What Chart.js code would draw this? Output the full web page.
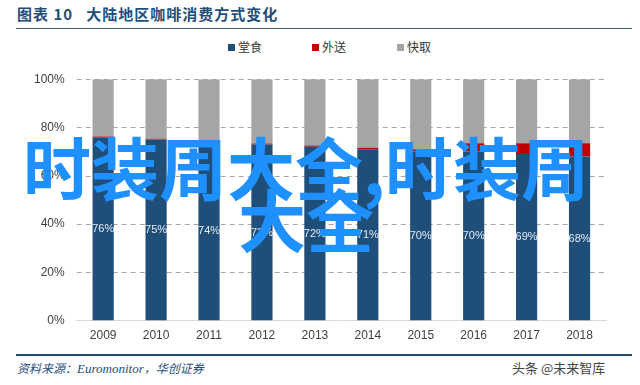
<!DOCTYPE html>
<html>
<head>
<meta charset="utf-8">
<script src="https://cdn.jsdelivr.net/npm/chart.js@4"></script>
<style>
  body { margin: 0; background: #fff; }
  #page { position: relative; width: 640px; height: 385px; overflow: hidden; font-family: "Noto Sans CJK SC", sans-serif; }
  #title { position: absolute; left: 17px; top: 3px; font-size: 15px; font-weight: bold; color: #1f4e79; letter-spacing: 1px; }
  #topline { position: absolute; left: 16px; top: 28px; width: 616px; height: 1px; background: #3a5f80; }
  #legend { position: absolute; top: 38px; left: 0; width: 640px; font-size: 12px; color: #333; }
  .item { position: absolute; top: 0; }
  .box { display: inline-block; width: 7px; height: 7px; margin-right: 3px; vertical-align: 1px; }
  #chartBox { position: absolute; left: 0; top: 60px; width: 640px; height: 291px; }
  #bottomline { position: absolute; left: 16px; top: 354px; width: 616px; height: 2px; background: #1f4e79; }
  #source { position: absolute; left: 17px; top: 359px; font-size: 12px; font-style: italic; color: #1f4e79; }
  #source .en { font-family: "Liberation Serif", serif; font-size: 13px; }
  #mark { position: absolute; left: 512px; top: 358px; font-size: 13px; color: #444; }
  #wm { position: absolute; left: 0; top: 140px; width: 612px; text-align: center; font-size: 68px; line-height: 52px; font-weight: bold; color: #1e90ff; }
</style>
</head>
<body>
<div id="page">
  <div id="title">图表 10&nbsp;&nbsp;&nbsp;大陆地区咖啡消费方式变化</div>
  <div id="topline"></div>
  <div id="legend"></div>
  <div id="chartBox"><canvas id="coffeeChart"></canvas></div>
  <div id="bottomline"></div>
  <div id="source">资料来源：<span class="en">Euromonitor</span>，华创证券</div>
  <div id="mark">头条 @未来智库</div>
  <div id="wm">时装周大全,时装周<br>大全</div>
</div>
<script>
const years = ["2009", "2010", "2011", "2012", "2013", "2014", "2015", "2016", "2017", "2018"];
const dineIn = [76, 75, 74, 73, 72, 71, 70, 70, 69, 68];
const delivery = [0.3, 0.3, 0.3, 0.4, 0.5, 0.6, 1.0, 3.5, 4.5, 5.5];
const takeAway = [23.7, 24.7, 25.7, 26.6, 27.5, 28.4, 29.0, 26.5, 26.5, 26.5];
const yTicks = [0, 20, 40, 60, 80, 100];

const seriesNames = ["堂食", "外送", "快取"];
const seriesColors = ["#1f4e79", "#c00000", "#a5a5a5"];
const legendX = [228, 312, 397];

// html legend
const legendEl = document.getElementById("legend");
seriesNames.forEach((name, i) => {
  const span = document.createElement("span");
  span.className = "item";
  span.style.left = legendX[i] + "px";
  span.innerHTML = `<span class="box" style="background:${seriesColors[i]}"></span>${name}`;
  legendEl.appendChild(span);
});

// white % labels in the dine-in bars
const barLabels = {
  id: "barLabels",
  afterDatasetsDraw(chart) {
    const ctx = chart.ctx;
    const meta = chart.getDatasetMeta(0);
    ctx.save();
    ctx.font = "11px 'Liberation Sans', sans-serif";
    ctx.fillStyle = "#e4ecf5";
    ctx.textAlign = "center";
    ctx.textBaseline = "middle";
    meta.data.forEach((bar, i) => {
      const mid = (bar.y + bar.base) / 2;
      ctx.fillText(dineIn[i] + "%", bar.x, mid);
    });
    ctx.restore();
  }
};

// dashed horizontal gridlines
const dashedGrid = {
  id: "dashedGrid",
  beforeDatasetsDraw(chart) {
    const { ctx, chartArea, scales } = chart;
    ctx.save();
    ctx.strokeStyle = "#a6a6a6";
    ctx.lineWidth = 1;
    ctx.setLineDash([5, 4]);
    yTicks.forEach(v => {
      if (v === 0) return;
      const y = Math.round(scales.y.getPixelForValue(v)) + 0.5;
      ctx.beginPath();
      ctx.moveTo(chartArea.left, y);
      ctx.lineTo(chartArea.right, y);
      ctx.stroke();
    });
    ctx.restore();
  }
};

const ctx = document.getElementById("coffeeChart").getContext("2d");
new Chart(ctx, {
  type: "bar",
  data: {
    labels: years,
    datasets: [
      { label: seriesNames[0], data: dineIn, backgroundColor: seriesColors[0] },
      { label: seriesNames[1], data: delivery, backgroundColor: seriesColors[1] },
      { label: seriesNames[2], data: takeAway, backgroundColor: seriesColors[2] }
    ]
  },
  options: {
    responsive: true,
    maintainAspectRatio: false,
    animation: false,
    layout: { padding: { left: 22, right: 34, top: 15, bottom: 0 } },
    datasets: { bar: { categoryPercentage: 1, barPercentage: 0.4 } },
    plugins: {
      legend: { display: false },
      tooltip: { enabled: false }
    },
    scales: {
      x: {
        stacked: true,
        grid: { display: false, drawTicks: false },
        border: { color: "#d9d9d9" },
        ticks: { color: "#404040", font: { size: 12, family: "'Liberation Sans', sans-serif" }, padding: 8 }
      },
      y: {
        stacked: true,
        min: 0,
        max: 100,
        afterBuildTicks: axis => { axis.ticks = yTicks.map(v => ({ value: v })); },
        grid: { display: false, drawTicks: false },
        border: { display: false },
        ticks: {
          color: "#404040",
          padding: 12,
          font: { size: 12, family: "'Liberation Sans', sans-serif" },
          callback: v => v + "%"
        }
      }
    }
  },
  plugins: [dashedGrid, barLabels]
});
</script>
</body>
</html>
